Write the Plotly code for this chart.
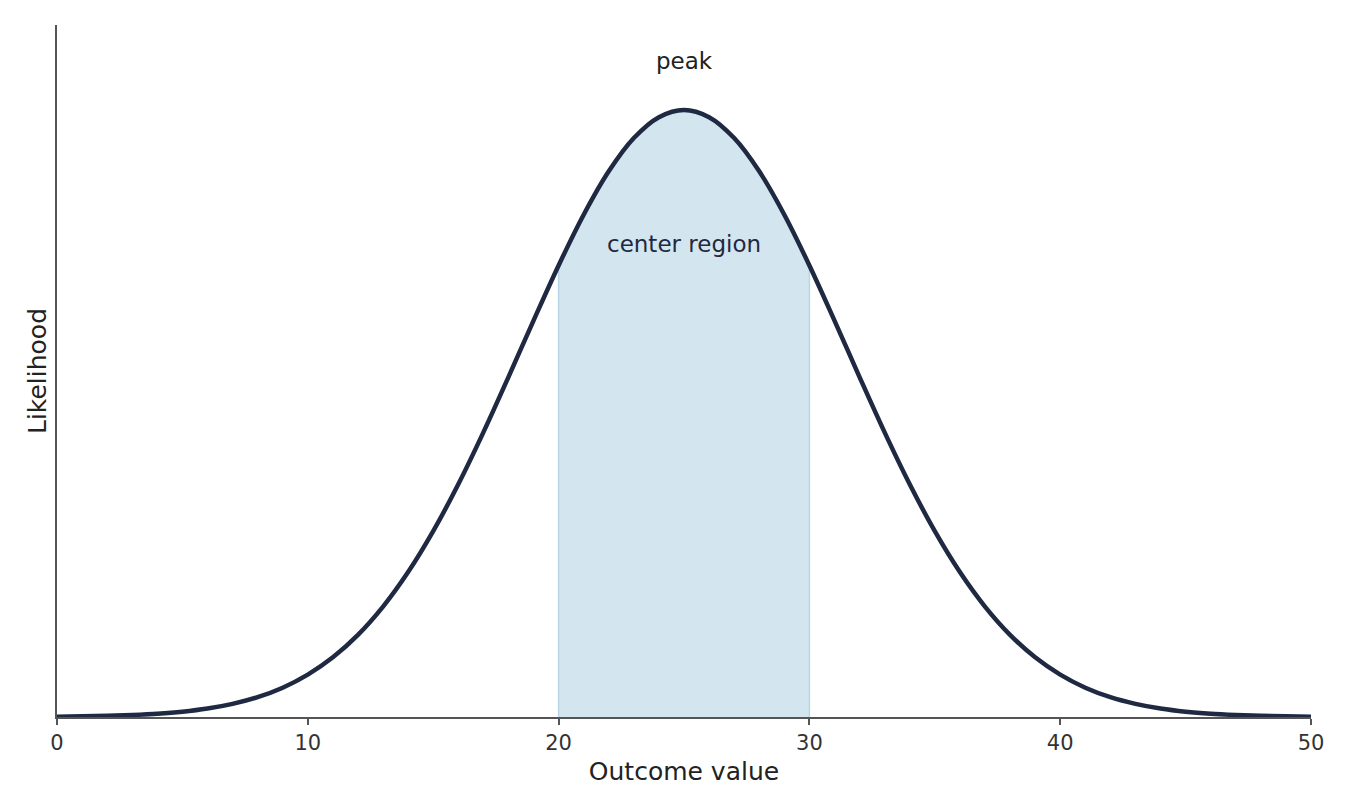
import plotly.graph_objects as go

# outcome values and relative likelihood
outcome = list(range(0, 51))
likelihood = [
    0.0006, 0.0011, 0.0019, 0.0033, 0.0054, 0.0088, 0.0140, 0.0217, 0.0327, 0.0483,
    0.0698, 0.0983, 0.1353, 0.1819, 0.2388, 0.3062, 0.3834, 0.4689, 0.5600, 0.6531,
    0.7439, 0.8275, 0.8990, 0.9538, 0.9882, 1.0000, 0.9882, 0.9538, 0.8990, 0.8275,
    0.7439, 0.6531, 0.5600, 0.4689, 0.3834, 0.3062, 0.2388, 0.1819, 0.1353, 0.0983,
    0.0698, 0.0483, 0.0327, 0.0217, 0.0140, 0.0088, 0.0054, 0.0033, 0.0019, 0.0011,
    0.0006,
]
region_lo, region_hi = 20, 30
x_ticks = [0, 10, 20, 30, 40, 50]

# shaded centre band, closed down to zero
band_x = [region_lo] + [x for x in outcome if region_lo <= x <= region_hi] + [region_hi]
band_y = [0] + [y for x, y in zip(outcome, likelihood) if region_lo <= x <= region_hi] + [0]

fig = go.Figure()
fig.add_trace(go.Scatter(
    x=band_x, y=band_y, fill='toself', mode='lines',
    line=dict(color='#b7d6e8', width=1.5),
    fillcolor='#d3e6f0', hoverinfo='skip', showlegend=False,
))
fig.add_trace(go.Scatter(
    x=outcome, y=likelihood, mode='lines',
    line=dict(color='#1f2942', width=4.5, shape='spline'),
    showlegend=False,
))

fig.add_annotation(x=25, y=1.08, text='peak', showarrow=False,
                   font=dict(size=23, color='#222222'))
fig.add_annotation(x=25, y=0.78, text='center region', showarrow=False,
                   font=dict(size=23, color='#1f2942'))

fig.update_layout(
    width=1350, height=810,
    margin=dict(l=49, r=47, t=17, b=101),
    plot_bgcolor='white', paper_bgcolor='white',
    font=dict(family='DejaVu Sans', color='#222222'),
    xaxis=dict(
        range=[0, 50], tickvals=x_ticks, showgrid=False, zeroline=False,
        showline=True, linecolor='#555555', linewidth=1.5,
        ticks='outside', ticklen=6, tickcolor='#555555', tickwidth=1.5,
        tickfont=dict(size=21, color='#333333'),
        title=dict(text='Outcome value', font=dict(size=25), standoff=9),
    ),
    yaxis=dict(
        range=[0, 1.14], showticklabels=False, showgrid=False, zeroline=False,
        showline=True, linecolor='#555555', linewidth=1.5, ticks='',
        title=dict(text='Likelihood', font=dict(size=25), standoff=2),
    ),
)

fig.write_html("out.html")
